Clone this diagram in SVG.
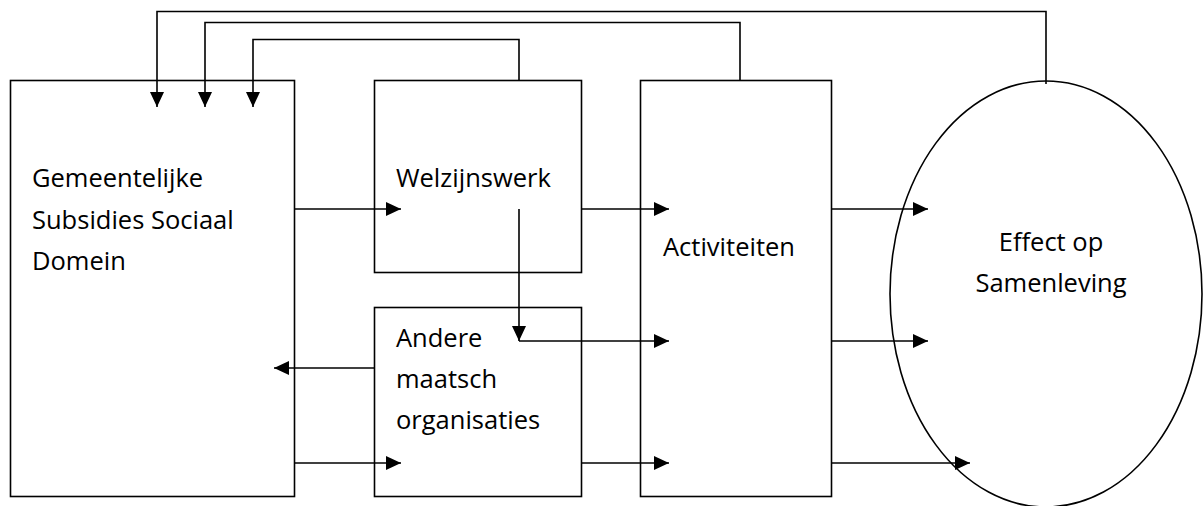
<svg xmlns="http://www.w3.org/2000/svg" width="1204" height="506" viewBox="0 0 1204 506">
<style>
.box{fill:#fff;stroke:#000;stroke-width:1.6}
.ell{fill:none;stroke:#000;stroke-width:1.6}
.con{fill:none;stroke:#000;stroke-width:1.6;stroke-linejoin:miter}
.arr{marker-end:url(#ah)}
text{font-family:"Open Sans","Liberation Sans",sans-serif;font-size:25.5px;fill:#000}
</style>
<defs>
<marker id="ah" markerWidth="15" markerHeight="14" refX="15" refY="7" orient="auto" markerUnits="userSpaceOnUse">
<path d="M0,0 L15,7 L0,14 z" fill="#000"/>
</marker>
</defs>
<rect width="1204" height="506" fill="#fff"/>
<g id="gemeente">
<rect class="box" x="10.5" y="80.5" width="284" height="416"/>
<text x="32" y="187">Gemeentelijke</text>
<text x="32" y="228.5">Subsidies Sociaal</text>
<text x="32" y="270">Domein</text>
</g>
<g id="welzijnswerk">
<rect class="box" x="374.5" y="80.5" width="207" height="192"/>
<text x="396" y="187">Welzijnswerk</text>
</g>
<g id="andere">
<rect class="box" x="374.5" y="307.5" width="207" height="189"/>
<text x="396" y="347">Andere</text>
<text x="396" y="388">maatsch</text>
<text x="396" y="429">organisaties</text>
</g>
<g id="activiteiten">
<rect class="box" x="640.5" y="80.5" width="191" height="416"/>
<text x="663" y="256">Activiteiten</text>
</g>
<g id="effect">
<ellipse class="ell" cx="1046" cy="294" rx="156" ry="213"/>
<text x="1051" y="251" text-anchor="middle">Effect op</text>
<text x="1051" y="292" text-anchor="middle">Samenleving</text>
</g>
<g id="connectors">
<path class="con arr" d="M1046,84 V11.5 H157 V107"/>
<path class="con arr" d="M740,80.5 V22.5 H205 V107"/>
<path class="con arr" d="M519,80.5 V39.5 H253 V107"/>
<path class="con arr" d="M295,209 H401"/>
<path class="con arr" d="M582,209 H669"/>
<path class="con arr" d="M832,209 H928"/>
<path class="con arr" d="M519,209 V341"/>
<path class="con arr" d="M519,341 H669"/>
<path class="con arr" d="M832,341 H928"/>
<path class="con arr" d="M374,368 H274"/>
<path class="con arr" d="M295,463 H401"/>
<path class="con arr" d="M582,463 H669"/>
<path class="con arr" d="M832,463 H970"/>
</g>
</svg>
